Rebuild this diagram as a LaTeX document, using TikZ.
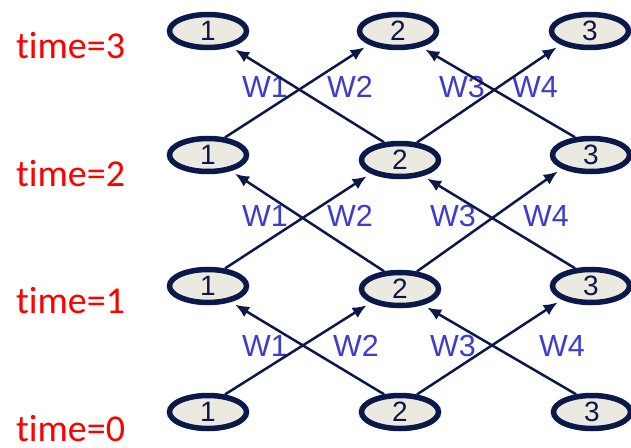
\documentclass[tikz,border=0pt]{standalone}
\usepackage{fontspec}
\setmainfont{Liberation Sans}
\newfontfamily\timefont[Ligatures={NoCommon}]{Carlito}
\usetikzlibrary{shapes.geometric,arrows.meta}
\definecolor{navy}{RGB}{10,24,74}
\definecolor{nodefill}{RGB}{236,234,224}
\definecolor{wblue}{RGB}{60,60,205}
\begin{document}
\begin{tikzpicture}[x=1pt,y=-1pt,
  state/.style={ellipse, draw=navy, line width=5.5pt, fill=nodefill,
    minimum width=77pt, minimum height=33pt, inner sep=0pt,
    font=\fontsize{28}{28}\selectfont, text=navy},
  arr/.style={navy, line width=2.5pt, -{Latex[length=14pt,width=12pt]}, shorten >=5pt},
  wlab/.style={text=wblue, font=\fontsize{30.5}{30}\selectfont, anchor=base, inner sep=0pt},
  tlab/.style={text=red, font=\timefont\fontsize{38}{38}\selectfont, anchor=base west, inner sep=0pt}]
\useasboundingbox (0,0) rectangle (631,447);

% time labels
\node[tlab] (t3) at (16,58)  {time=3};
\node[tlab] (t2) at (16,186) {time=2};
\node[tlab] (t1) at (16,313) {time=1};
\node[tlab] (t0) at (16,441) {time=0};

% states, one row per time step
\node[state] (n31) at (208,31)  {1};
\node[state] (n32) at (398,31)  {2};
\node[state] (n33) at (590,31)  {3};
\node[state] (n21) at (208,155) {1};
\node[state] (n22) at (400,160) {2};
\node[state] (n23) at (591,155) {3};
\node[state] (n11) at (208,286) {1};
\node[state] (n12) at (400,289) {2};
\node[state] (n13) at (591,286) {3};
\node[state] (n01) at (208,412) {1};
\node[state] (n02) at (400,412) {2};
\node[state] (n03) at (592,412) {3};

% weight labels
\node[wlab] (w31) at (265,97) {W1};
\node[wlab] (w32) at (350,97) {W2};
\node[wlab] (w33) at (462,97) {W3};
\node[wlab] (w34) at (535,97) {W4};
\node[wlab] (w21) at (265,226) {W1};
\node[wlab] (w22) at (350,226) {W2};
\node[wlab] (w23) at (453,226) {W3};
\node[wlab] (w24) at (546,226) {W4};
\node[wlab] (w11) at (265,356) {W1};
\node[wlab] (w12) at (356,356) {W2};
\node[wlab] (w13) at (453,356) {W3};
\node[wlab] (w14) at (562,356) {W4};

% transitions between consecutive time steps
\foreach \a/\b in {0/1,1/2,2/3}{
  \draw[arr] (n\a1.46)  -- (n\b2.205);
  \draw[arr] (n\a2.132) -- (n\b1.325);
  \draw[arr] (n\a2.46)  -- (n\b3.205);
  \draw[arr] (n\a3.132) -- (n\b2.325);
}
\end{tikzpicture}
\end{document}
